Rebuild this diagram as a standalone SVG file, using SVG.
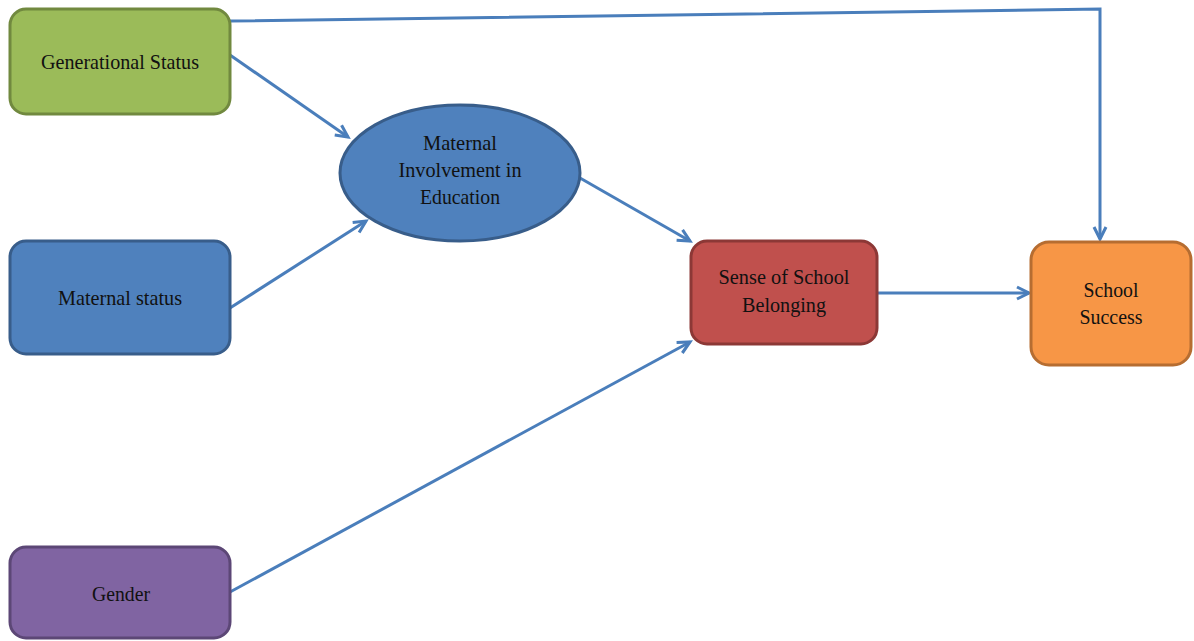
<svg xmlns="http://www.w3.org/2000/svg" width="1194" height="641" viewBox="0 0 1194 641">
<defs>
<style>
.n{stroke-width:3}
.t{font-family:"Liberation Serif","Times New Roman",serif;font-size:22px;fill:#111;text-anchor:middle}
.c{fill:none;stroke:#4a7ebb;stroke-width:3;marker-end:url(#ah)}
</style>
<marker id="ah" viewBox="0 0 12 12" refX="10.5" refY="6" markerWidth="16" markerHeight="16" markerUnits="userSpaceOnUse" orient="auto" style="overflow:visible">
<path d="M1.5,1.5 L10.5,6 L1.5,10.5" fill="none" stroke="#4a7ebb" stroke-width="2.3" stroke-linejoin="miter"/>
</marker>
</defs>
<rect width="1194" height="641" fill="#fff"/>
<g id="connectors">
<polyline class="c" points="230,21 1100,9 1100,239"/>
<line class="c" x1="230" y1="55" x2="348" y2="137"/>
<line class="c" x1="230" y1="308" x2="366" y2="221"/>
<line class="c" x1="580" y1="178" x2="690" y2="241"/>
<line class="c" x1="230" y1="592" x2="690" y2="342"/>
<line class="c" x1="877" y1="293" x2="1029" y2="293"/>
</g>
<g id="generational">
<rect class="n" x="10" y="9" width="220" height="105" rx="16" fill="#9bbb59" stroke="#71893f"/>
<text class="t" x="120" y="69" textLength="158" lengthAdjust="spacingAndGlyphs">Generational Status</text>
</g>
<g id="maternal-status">
<rect class="n" x="10" y="241" width="220" height="113" rx="16" fill="#4f81bd" stroke="#385d8a"/>
<text class="t" x="120" y="305" textLength="124" lengthAdjust="spacingAndGlyphs">Maternal status</text>
</g>
<g id="gender">
<rect class="n" x="10" y="547" width="220" height="91" rx="16" fill="#8064a2" stroke="#5c4776"/>
<text class="t" x="121" y="601" textLength="58" lengthAdjust="spacingAndGlyphs">Gender</text>
</g>
<g id="maternal-involvement">
<ellipse class="n" cx="460" cy="173" rx="120" ry="68" fill="#4f81bd" stroke="#385d8a"/>
<text class="t" x="460" y="150" textLength="74" lengthAdjust="spacingAndGlyphs">Maternal</text>
<text class="t" x="460" y="177" textLength="123" lengthAdjust="spacingAndGlyphs">Involvement in</text>
<text class="t" x="460" y="204" textLength="80" lengthAdjust="spacingAndGlyphs">Education</text>
</g>
<g id="belonging">
<rect class="n" x="691" y="241" width="186" height="103" rx="16" fill="#c0504d" stroke="#8c3836"/>
<text class="t" x="784" y="284" textLength="131" lengthAdjust="spacingAndGlyphs">Sense of School</text>
<text class="t" x="784" y="312" textLength="84" lengthAdjust="spacingAndGlyphs">Belonging</text>
</g>
<g id="success">
<rect class="n" x="1031" y="242" width="160" height="123" rx="18" fill="#f79646" stroke="#b66d31"/>
<text class="t" x="1111" y="297" textLength="55" lengthAdjust="spacingAndGlyphs">School</text>
<text class="t" x="1111" y="324" textLength="63" lengthAdjust="spacingAndGlyphs">Success</text>
</g>
</svg>
